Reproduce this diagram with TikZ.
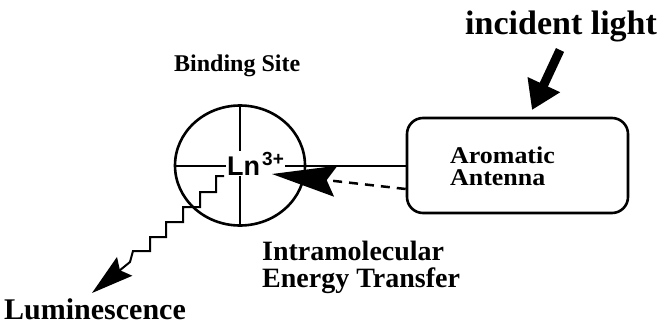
\documentclass[tikz,border=0pt]{standalone}
\usepackage{fontspec}
\setmainfont{Liberation Serif}
\newfontfamily\arialfont{Liberation Sans}
\usetikzlibrary{arrows.meta,shapes.geometric}
\tikzset{
  lbl/.style={anchor=base west, inner sep=0pt, font=\bfseries},
  thin line/.style={line width=2pt},
  outline/.style={draw, line width=2.6pt},
}
\begin{document}
\begin{tikzpicture}[x=1pt,y=-1pt]
\useasboundingbox (0,0) rectangle (660,326);
% binding site ellipse
\node[outline, ellipse, minimum width=130pt, minimum height=120pt, inner sep=0pt] (site) at (240,165.5) {};
% antenna box
\node[outline, rounded corners=16pt, minimum width=221pt, minimum height=95pt, inner sep=0pt] (box) at (517.5,165.5) {};
% cross lines and link
\draw[thin line] (site.north) -- (site.south);
\draw[thin line] (site.west) -- (box.west);
% Ln3+
\node[anchor=base west, fill=white, inner sep=1pt] (ln) at (226,175)
  {\arialfont\bfseries\fontsize{27}{27}\selectfont Ln\hspace{2pt}\raisebox{10pt}{\fontsize{19}{19}\selectfont 3+}};
% labels
\node[lbl, font=\bfseries\fontsize{34}{34}\selectfont] (inc) at (465,35) {incident light};
\node[lbl, font=\bfseries\fontsize{24}{24}\selectfont] (bind) at (174,72) {Binding Site};
\node[lbl, font=\bfseries\fontsize{24}{24}\selectfont] (aro1) at (450,163) {\scalebox{1.08}[1]{Aromatic}};
\node[lbl, font=\bfseries\fontsize{24}{24}\selectfont] (aro2) at (450,185) {\scalebox{1.08}[1]{Antenna}};
\node[lbl, font=\bfseries\fontsize{28}{28}\selectfont] (ie1) at (262,260) {Intramolecular};
\node[lbl, font=\bfseries\fontsize{28}{28}\selectfont] (ie2) at (262,287) {Energy Transfer};
\node[lbl, font=\bfseries\fontsize{30}{30}\selectfont] (lum) at (4,319) {Luminescence};
% incident light arrow
\coordinate (inctail) at (560,50);
\coordinate (inctip) at (532,110);
\draw[line width=9pt, -{Triangle[length=28pt,width=34pt]}] (inctail) -- (inctip);
% energy transfer dashed arrow
\coordinate (ettip) at (272,174);
\draw[line width=2.5pt, dash pattern=on 9pt off 7pt, -{Stealth[length=64pt,width=31pt,inset=9pt]}] ([yshift=-23.5pt]box.west) -- (ettip);
% luminescence staircase
\coordinate (stairs) at (224,176);
\coordinate (lumtip) at (92,293);
\draw[thin line, line join=miter, -{Stealth[length=42pt,width=24pt,inset=6pt]}] (stairs)
  -- ++(-8,0) -- ++(0,16) -- ++(-16,0) -- ++(0,15) -- ++(-17,0) -- ++(0,15)
  -- ++(-17,0) -- ++(0,15) -- ++(-16,0) -- ++(0,14) -- ++(-17,0) -- ++(-3,11) -- (lumtip);
\end{tikzpicture}
\end{document}
